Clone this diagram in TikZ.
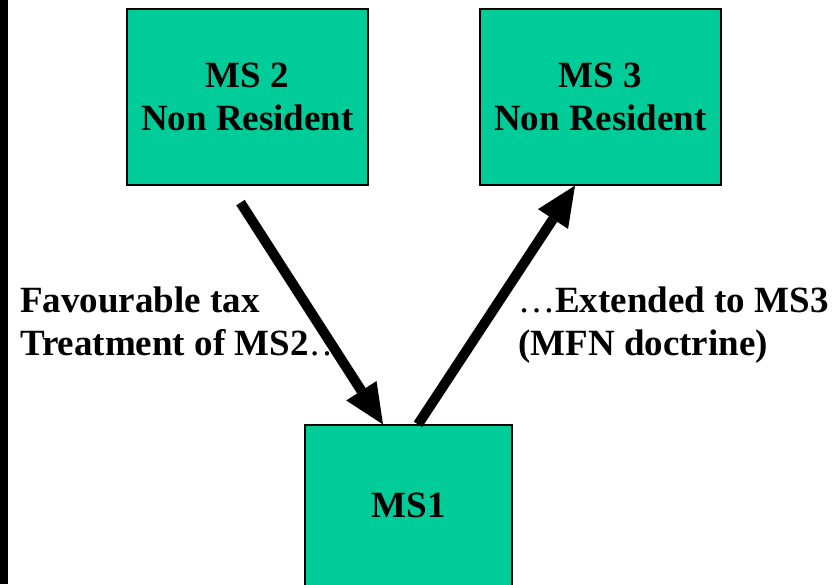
\documentclass[tikz,border=0pt]{standalone}
\usepackage{fontspec}
\setmainfont{Liberation Serif}
\usetikzlibrary{arrows.meta}
\definecolor{msgreen}{RGB}{0,204,153}
\tikzset{
  msbox/.style    = {shape=rectangle, draw, fill=msgreen, align=center,
                     line width=1.2pt, inner sep=0pt,
                     font=\bfseries\fontsize{37}{43}\selectfont},
  note/.style     = {align=left, inner sep=0pt,
                     font=\bfseries\fontsize{37}{43}\selectfont},
  bigarrow/.style = {line width=10pt,
                     -{Triangle[length=40pt,width=36pt,line width=0pt]}},
}

\begin{document}
\begin{tikzpicture}[x=1pt, y=-1pt]
  \useasboundingbox (0,0) rectangle (838,584);
  \fill[black] (0,0) rectangle (8,584);
  % member states
  \node [msbox, minimum width=241pt, minimum height=176pt] (ms2) at (247.5,97)
    {MS 2\\Non Resident};
  \node [msbox, minimum width=241pt, minimum height=176pt] (ms3) at (600.5,97)
    {MS 3\\Non Resident};
  \node [msbox, minimum width=207pt, minimum height=161pt] (ms1) at (408.5,505.5)
    {MS1};
  % arrows
  \draw [bigarrow] ([xshift=-7pt,yshift=-17pt]ms2.south) -- ([xshift=-25.5pt]ms1.north);
  \draw [bigarrow] ([xshift=9.5pt]ms1.north) -- ([xshift=-25.5pt]ms3.south);
  % texts
  \node [note, anchor=base west] (fav) at (20,355)
    {Favourable tax\\Treatment of MS2{\mdseries …}};
  \node [note, anchor=base west] (mfn) at (518,355)
    {{\mdseries …}Extended to MS3\\(MFN doctrine)};
\end{tikzpicture}
\end{document}
